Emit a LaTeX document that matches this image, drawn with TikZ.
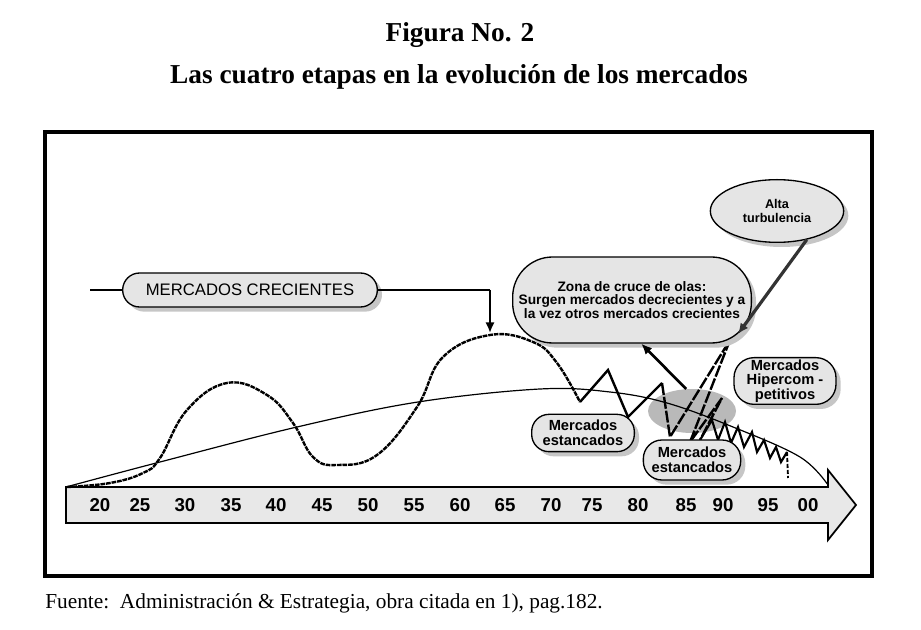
\documentclass[tikz,border=0pt]{standalone}
\usepackage{fontspec}
\setmainfont{Liberation Serif}
\setsansfont{Liberation Sans}
\usetikzlibrary{arrows.meta,shadows,shapes.geometric}

\def \lineW {0.9pt}

\tikzset{
  bubble/.style={draw, line width=1pt, fill=gray!20, rounded corners=#1,
    align=center, inner sep=0pt, font=\sffamily\bfseries,
    drop shadow={shadow xshift=3.5pt, shadow yshift=-3.5pt, fill=gray!45, opacity=1}},
  yearlbl/.style={font=\sffamily\bfseries\fontsize{14}{16}\selectfont, inner sep=0pt},
  wave/.style={line width=1.8pt, dash pattern=on 3.5pt off 0.7pt},
  zig/.style={line width=1.8pt, line join=miter},
}

\begin{document}
\begin{tikzpicture}[x=0.75pt, y=-0.75pt, >={Latex[length=8pt,width=7pt]}]
  \useasboundingbox (0,0) rectangle (921,630);

  % titulos y fuente
  \node[font=\bfseries\fontsize{20.5}{24}\selectfont] (titulo) at (460,35) {Figura No. 2};
  \node[font=\bfseries\fontsize{20.5}{24}\selectfont] (subtitulo) at (459,77)
    {Las cuatro etapas en la evolución de los mercados};
  \node[font=\fontsize{16}{18}\selectfont, anchor=west, inner sep=0pt] (fuente) at (45,603)
    {Fuente:\ \ Administración \& Estrategia, obra citada en 1), pag.182.};
  \draw[line width=3pt] (45,132) rectangle (872,576);

  % eje de los anos
  \draw[line width=1.3pt, fill=gray!18] (66,487) -- (828,487) -- (828,470) -- (856,505)
    -- (828,540) -- (828,523) -- (66,523) -- cycle;
  \foreach \x/\yr in {100/20, 140/25, 185/30, 231/35, 276/40, 322/45, 368/50, 414/55,
      460/60, 505/65, 551/70, 592/75, 638/80, 686/85, 723/90, 768/95, 808/00}
    \node[yearlbl] (yr\yr) at (\x,505) {\yr};

  % zona de cruce
  \node[ellipse, fill=gray!55, minimum width=66pt, minimum height=33pt] (cruce) at (692,411) {};

  % tendencia larga
  \draw[line width=\lineW] plot[smooth, tension=0.6] coordinates {(66,487) (160,462) (297,427)
    (418,402) (540,389) (610,392) (667,403) (733,427) (800,457) (828,485)};

  % olas
  \draw[wave] plot[smooth, tension=0.7] coordinates {(67,487) (110,483) (143,473) (160,458)
    (187,410) (227,383) (267,395) (293,423) (313,457) (337,465) (377,455) (417,407)
    (443,357) (490,335) (533,342) (557,363) (580,402)};
  \draw[zig] (580,402) -- (608,370) -- (628,417) -- (662,383);
  \draw[zig, dash pattern=on 9pt off 1.5pt] (662,383) -- (670,437) -- (730,340) -- (690,442)
    -- (722,398) -- (700,440);
  \draw[zig, line width=1.6pt] (700,440) -- (712,420) -- (718,440) -- (725,422) -- (731,443)
    -- (738,427) -- (744,447) -- (752,432) -- (757,452) -- (764,440) -- (770,458)
    -- (776,447) -- (781,462) -- (787,452);
  \draw[zig, line width=1.4pt, dash pattern=on 3pt off 1.5pt] (787,452) -- (788,478);

  % etiquetas
  \node[bubble=12.7pt, minimum width=191pt, minimum height=25.5pt,
    font=\sffamily\fontsize{12.5}{14}\selectfont] (crec) at (250,290) {MERCADOS CRECIENTES};
  \node[bubble=30pt, minimum width=179pt, minimum height=64.5pt,
    font=\sffamily\bfseries\fontsize{10.3}{10.3}\selectfont] (zona) at (632,300)
    {Zona de cruce de olas:\\Surgen mercados decrecientes y a\\la vez otros mercados crecientes};
  \node[bubble=0pt, ellipse, minimum width=100pt, minimum height=47pt,
    font=\sffamily\bfseries\fontsize{9.5}{10.5}\selectfont] (alta) at (777,211) {Alta\\turbulencia};
  \node[bubble=15pt, minimum width=76.5pt, minimum height=35pt,
    font=\sffamily\bfseries\fontsize{11}{10.8}\selectfont] (hiper) at (785,381)
    {Mercados\\Hipercom -\\petitivos};
  \node[bubble=13pt, minimum width=77pt, minimum height=28pt,
    font=\sffamily\bfseries\fontsize{11}{11.2}\selectfont] (est1) at (583,433) {Mercados\\estancados};
  \node[bubble=14pt, minimum width=73pt, minimum height=30pt,
    font=\sffamily\bfseries\fontsize{11}{11.2}\selectfont] (est2) at (692,460) {Mercados\\estancados};

  % flechas
  \coordinate (inicio) at (90,290);
  \coordinate (codo) at (490,290);
  \coordinate (cima) at (490,333);
  \coordinate (turb) at (738,334);
  \draw[line width=\lineW] (inicio) -- (crec.west);
  \draw[line width=\lineW] (crec.east) -- (codo);
  \draw[line width=1.8pt, ->] (codo) -- (cima);
  \draw[line width=2pt, ->] (cruce.105) -- (zona.-78);
  \draw[line width=2.4pt, black!80, ->] (alta.-44) -- (turb);
\end{tikzpicture}
\end{document}
